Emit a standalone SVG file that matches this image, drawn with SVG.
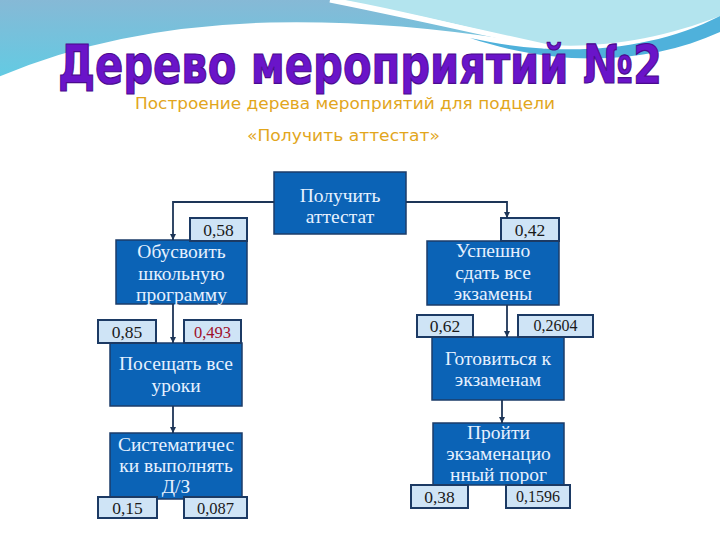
<svg xmlns="http://www.w3.org/2000/svg" width="720" height="540" viewBox="0 0 720 540">
<defs>
<linearGradient id="gBlue" x1="0" y1="0" x2="0" y2="1">
<stop offset="0" stop-color="#86b9d6"/>
<stop offset="1" stop-color="#62cbe3"/>
</linearGradient>
<marker id="arr" markerWidth="6" markerHeight="6" refX="6" refY="3" orient="auto" markerUnits="userSpaceOnUse">
<path d="M0,0 L6,3 L0,6 Z" fill="#1d3557"/>
</marker>
<style>
.node rect{fill:#0b63b6;stroke:#1c3d69;stroke-width:1.5}
.node text{font-family:"Liberation Serif","DejaVu Serif",serif;font-size:19.5px;fill:#e6f1ff;text-anchor:middle}
.val rect{fill:#cfe4f6;stroke:#1c3a64;stroke-width:2}
.val text{font-family:"Liberation Serif","DejaVu Serif",serif;font-size:17.5px;fill:#1a1a1a;text-anchor:middle}
.conn path{fill:none;stroke:#1d3557;stroke-width:1.8}
.title{font-family:"DejaVu Sans","Liberation Sans",sans-serif;font-weight:bold;font-size:54px;fill:#6a14c9;stroke:#4a0a8e;stroke-width:1.2}
.sub{font-family:"DejaVu Sans","Liberation Sans",sans-serif;font-size:15px;fill:#e2a61c}
</style>
</defs>
<rect width="720" height="540" fill="#ffffff"/>
<g id="background">
<path d="M0,0 H330 C400,14 470,30 545,47 C450,30 360,22 270,24 C160,27 70,48 0,78 Z" fill="url(#gBlue)"/>
<path d="M345,0 H720 V16 C660,40 590,50 540,44 C470,28 410,12 345,0 Z" fill="#b3e4ee"/>
<path d="M330,0 C410,16 480,32 548,47" fill="none" stroke="#ffffff" stroke-width="5"/>
<path d="M470,38 C560,58 650,52 720,16 V32 C650,64 560,68 470,38 Z" fill="#4fb1db"/>
<path d="M0,78 C70,48 160,27 270,24 C360,22 450,30 545,47" fill="none" stroke="#ffffff" stroke-width="3"/>
</g>
<text class="title" x="58" y="83" textLength="604" lengthAdjust="spacingAndGlyphs">Дерево мероприятий №2</text>
<text class="sub" x="135" y="109" textLength="420" lengthAdjust="spacingAndGlyphs">Построение дерева мероприятий для подцели</text>
<text class="sub" x="247" y="141" textLength="193" lengthAdjust="spacingAndGlyphs">«Получить аттестат»</text>

<g id="n-root" class="node"><rect x="274" y="172" width="132" height="62"/><text x="340" y="202">Получить</text><text x="340" y="223">аттестат</text></g>
<g id="n-obus" class="node"><rect x="116" y="240" width="131" height="64"/><text x="181.5" y="258">Обусвоить</text><text x="181.5" y="279.5">школьную</text><text x="181.5" y="300.5">программу</text></g>
<g id="n-uspesh" class="node"><rect x="427" y="241" width="132" height="64"/><text x="493" y="257">Успешно</text><text x="493" y="278.5">сдать все</text><text x="493" y="300">экзамены</text></g>
<g id="n-poseshat" class="node"><rect x="110" y="343" width="132" height="63"/><text x="176" y="370">Посещать все</text><text x="176" y="392">уроки</text></g>
<g id="n-sist" class="node"><rect x="110" y="433" width="132" height="66"/><text x="176" y="451">Систематичес</text><text x="176" y="472">ки выполнять</text><text x="176" y="493">Д/З</text></g>
<g id="n-gotov" class="node"><rect x="432" y="337" width="132" height="63"/><text x="498" y="365">Готовиться к</text><text x="498" y="386">экзаменам</text></g>
<g id="n-proiti" class="node"><rect x="433" y="423" width="131" height="62"/><text x="498.5" y="439">Пройти</text><text x="498.5" y="460">экзаменацио</text><text x="498.5" y="481">нный порог</text></g>

<g id="v-058" class="val"><rect x="190" y="218" width="57" height="23"/><text x="218.5" y="236">0,58</text></g>
<g id="v-042" class="val"><rect x="501" y="218" width="58" height="23"/><text x="530" y="236">0,42</text></g>
<g id="v-085" class="val"><rect x="98" y="320" width="58" height="23"/><text x="127" y="338">0,85</text></g>
<g id="v-0493" class="val"><rect x="184" y="320" width="57" height="23"/><text x="212.5" y="338" style="fill:#a0102a;font-size:16.5px">0,493</text></g>
<g id="v-062" class="val"><rect x="417" y="315" width="56" height="22"/><text x="445" y="332">0,62</text></g>
<g id="v-02604" class="val"><rect x="518" y="315" width="75" height="22"/><text x="555.5" y="331" style="font-size:16px">0,2604</text></g>
<g id="v-015" class="val"><rect x="98" y="497" width="59" height="21"/><text x="127.5" y="514">0,15</text></g>
<g id="v-0087" class="val"><rect x="184" y="497" width="63" height="21"/><text x="215.5" y="514" style="font-size:16.5px">0,087</text></g>
<g id="v-038" class="val"><rect x="411" y="485" width="57" height="23"/><text x="439.5" y="503">0,38</text></g>
<g id="v-01596" class="val"><rect x="506" y="485" width="64" height="23"/><text x="538" y="502" style="font-size:16px">0,1596</text></g>

<g id="connectors" class="conn">
<path d="M274,202 H173 V240" marker-end="url(#arr)"/>
<path d="M406,202 H507 V218" marker-end="url(#arr)"/>
<path d="M173,304 V343" marker-end="url(#arr)"/>
<path d="M173,406 V433" marker-end="url(#arr)"/>
<path d="M507,305 V337" marker-end="url(#arr)"/>
<path d="M502,400 V423" marker-end="url(#arr)"/>
</g>
</svg>
